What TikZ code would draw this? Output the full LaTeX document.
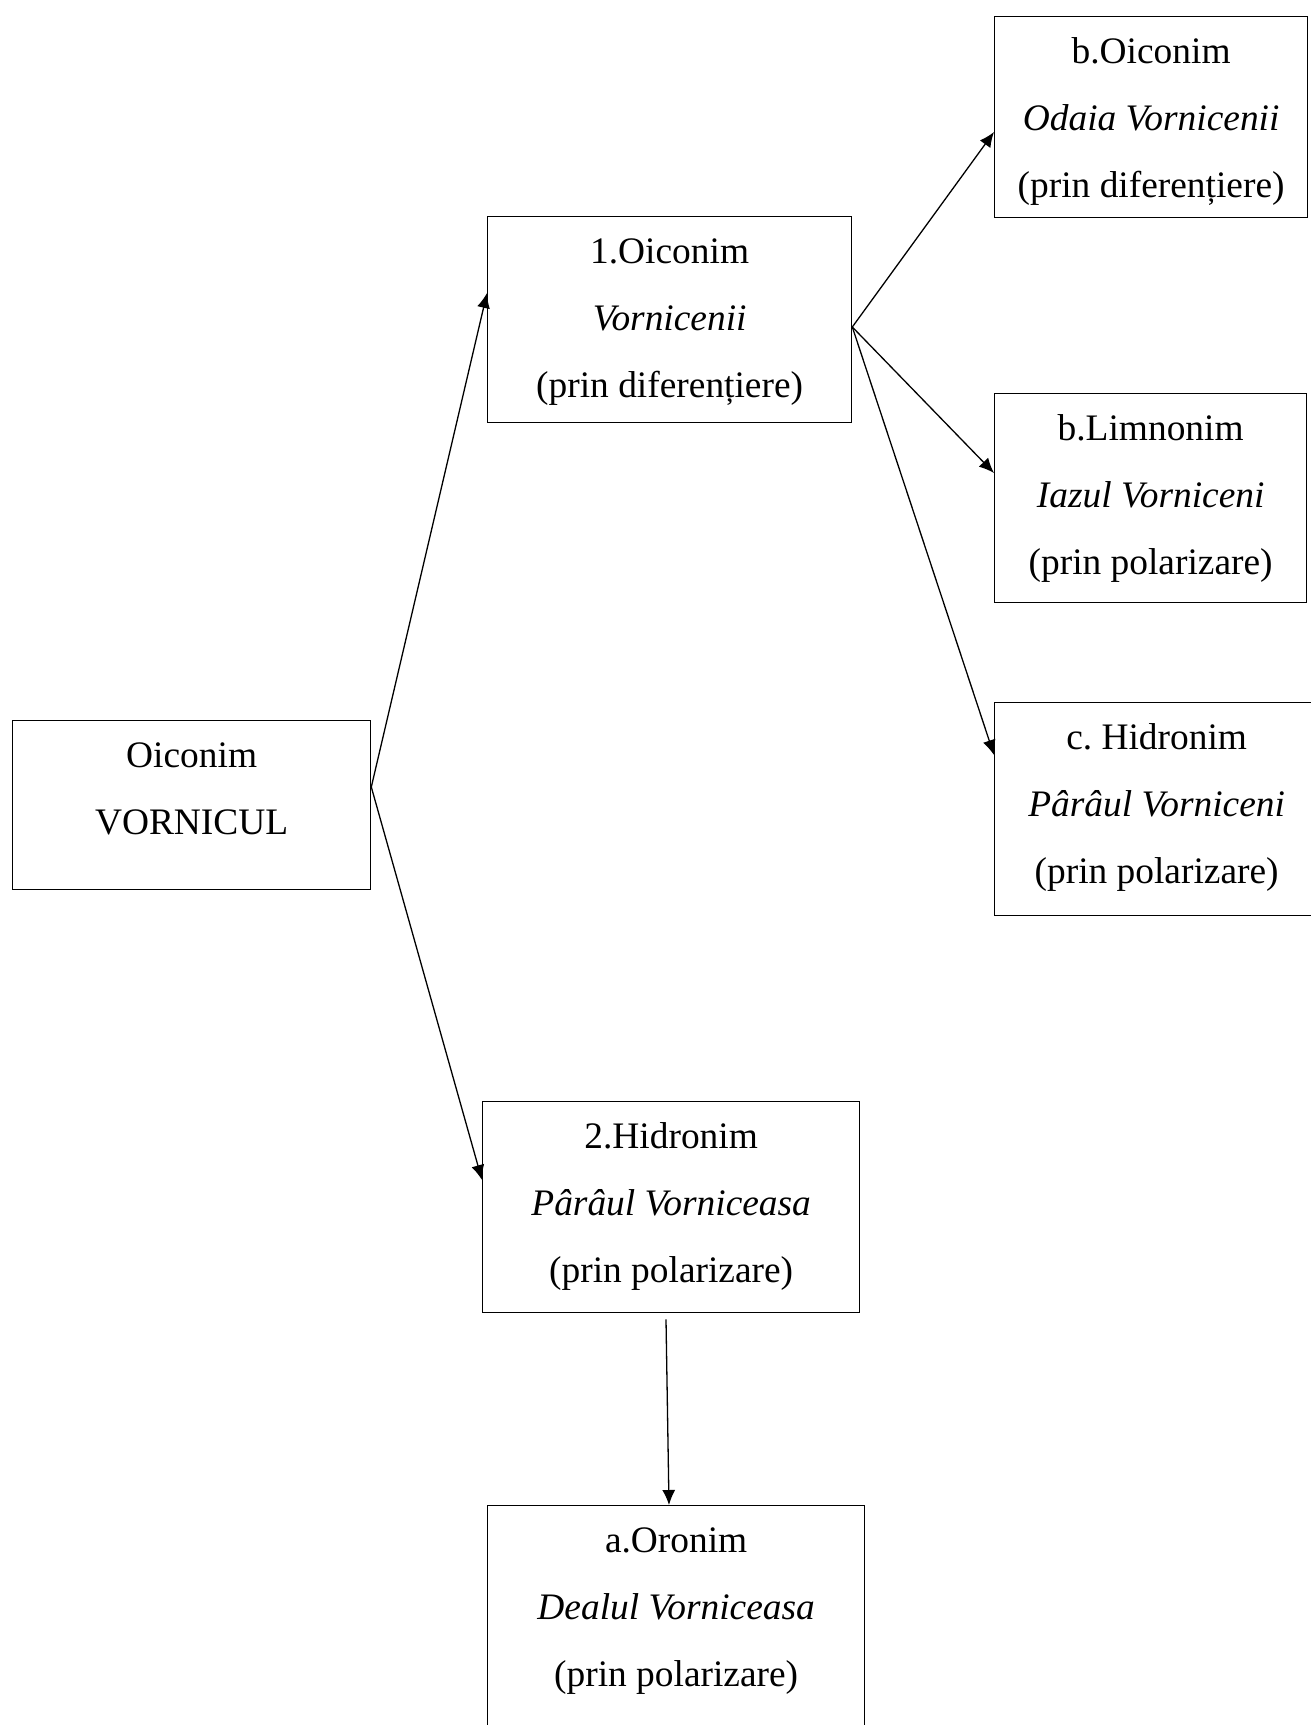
\documentclass[tikz,border=0pt]{standalone}
\usepackage{fontspec}
\setmainfont{Liberation Serif}
\usetikzlibrary{arrows.meta}
\frenchspacing
\newcommand{\bxt}[3]{\parbox[c][#2][t]{#1}{\centering\strut #3}}
\begin{document}
\begin{tikzpicture}[x=0.5pt,y=-0.5pt,
  box/.style={draw, line width=0.65pt, inner sep=0pt, anchor=north west,
    font=\fontsize{18.7}{33.5}\selectfont},
  conn/.style={line width=0.65pt, -{Latex[length=7.5pt,width=6.5pt]}}]
\useasboundingbox (0,0) rectangle (1311,1725);
\clip (0,0) rectangle (1311,1725);
\node[box] (A) at (12,720) {\bxt{179pt}{84.5pt}{Oiconim\\VORNICUL}};
\node[box] (B1) at (487,216) {\bxt{182pt}{103pt}{1.Oiconim\\\textit{Vornicenii}\\(prin diferențiere)}};
\node[box] (Bo) at (994,16) {\bxt{156.5pt}{100.5pt}{b.Oiconim\\\textit{Odaia Vornicenii}\\(prin diferențiere)}};
\node[box] (Bl) at (994,393) {\bxt{156pt}{104.5pt}{b.Limnonim\\\textit{Iazul Vorniceni}\\(prin polarizare)}};
\node[box] (Ch) at (994,702) {\bxt{162pt}{106.5pt}{c. Hidronim\\\textit{Pârâul Vorniceni}\\(prin polarizare)}};
\node[box] (H2) at (482,1101) {\bxt{188.5pt}{105.5pt}{2.Hidronim\\\textit{Pârâul Vorniceasa}\\(prin polarizare)}};
\node[box] (Ao) at (487,1505) {\bxt{188.5pt}{120pt}{a.Oronim\\\textit{Dealul Vorniceasa}\\(prin polarizare)}};
\draw[conn] ([yshift=-33.5pt]A.north east) -- ([yshift=-38.5pt]B1.north west);
\draw[conn] ([yshift=-33.5pt]A.north east) -- ([yshift=-39.5pt]H2.north west);
\draw[conn] ([yshift=-55.5pt]B1.north east) -- ([yshift=-58pt]Bo.north west);
\draw[conn] ([yshift=-55.5pt]B1.north east) -- ([yshift=-40pt]Bl.north west);
\draw[conn] ([yshift=-55.5pt]B1.north east) -- ([yshift=-26.5pt]Ch.north west);
\draw[conn] ([xshift=92pt,yshift=-3pt]H2.south west) -- ([xshift=91pt]Ao.north west);
\end{tikzpicture}
\end{document}
